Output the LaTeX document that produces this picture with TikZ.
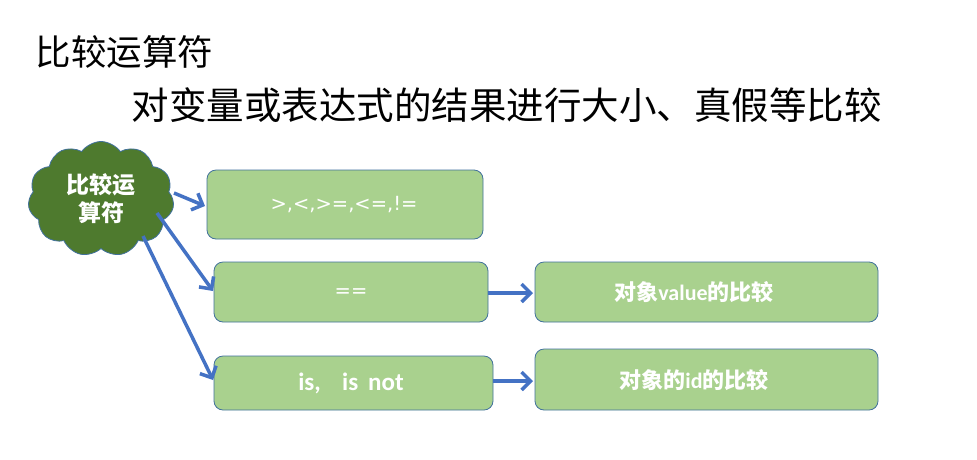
\documentclass[tikz,border=0pt]{standalone}
\usepackage{fontspec}
\setmainfont{Carlito}
\newfontfamily\cjk{Noto Sans CJK SC}
\newfontfamily\dvs{DejaVu Sans}
\usetikzlibrary{shapes.symbols,arrows.meta}
\definecolor{boxfill}{HTML}{A9D18E}
\definecolor{boxline}{HTML}{41719C}
\definecolor{cloudfill}{HTML}{4E7A2E}
\definecolor{arrowc}{HTML}{4472C4}
\tikzset{
  gbox/.style={draw=boxline, line width=0.8pt, fill=boxfill, rounded corners=9pt},
  btext/.style={text=white, inner sep=0pt},
  conn/.style={draw=arrowc, line width=3.5pt, -{Straight Barb[length=9pt,width=18pt,line width=3.5pt]}},
}
\begin{document}
\begin{tikzpicture}[x=1pt,y=-1pt]
\useasboundingbox[fill=white] (0,0) rectangle (977,459);
\node[anchor=west, font=\cjk\fontsize{35.5}{38}\selectfont] (title) at (32,52) {比较运算符};
\node[anchor=west, font=\cjk\fontsize{37.5}{40}\selectfont] (sub) at (128,105) {对变量或表达式的结果进行大小、真假等比较};
\node[cloud, cloud puffs=11, cloud puff arc=110, aspect=1.25, draw=boxline, line width=0.8pt, fill=cloudfill,
      minimum width=146pt, minimum height=115pt, inner sep=0pt, text=white, align=center,
      font=\cjk\fontsize{23}{28}\selectfont\bfseries] (cl) at (101,199) {比较运\\算符};
\path[gbox] (207,170) rectangle (483,239);
\path[gbox] (214,262) rectangle (488,322);
\path[gbox] (214,356) rectangle (493,410);
\path[gbox] (535,262) rectangle (878,322);
\path[gbox] (535,349) rectangle (878,410);
\node[btext, font=\dvs\fontsize{19.5}{24}\selectfont] (t1) at (344,205) {>,<,>=,<=,!=};
\node[btext, font=\dvs\fontsize{19.5}{24}\selectfont] (t2) at (351,293) {==};
\node[btext, font=\fontsize{25}{28}\selectfont\bfseries] (t3) at (351,383) {is,\hspace{0.85em}is\hspace{0.4em}not};
\node[btext, font=\fontsize{22}{26}\selectfont\bfseries] (t4) at (694,292) {{\cjk 对象}value{\cjk 的比较}};
\node[btext, font=\fontsize{22}{26}\selectfont\bfseries] (t5) at (694,380) {{\cjk 对象的}id{\cjk 的比较}};
\coordinate (c1) at (174,193);
\coordinate (e1) at (205,206);
\coordinate (c2) at (157,213);
\coordinate (e2) at (213,291);
\coordinate (c3) at (143,236);
\coordinate (e3) at (213,380);
\coordinate (s4) at (488,293);
\coordinate (e4) at (533,293);
\coordinate (s5) at (493,381);
\coordinate (e5) at (533,381);
\draw[conn] (c1) -- (e1);
\draw[conn] (c2) -- (e2);
\draw[conn] (c3) -- (e3);
\draw[conn] (s4) -- (e4);
\draw[conn] (s5) -- (e5);
\end{tikzpicture}
\end{document}
